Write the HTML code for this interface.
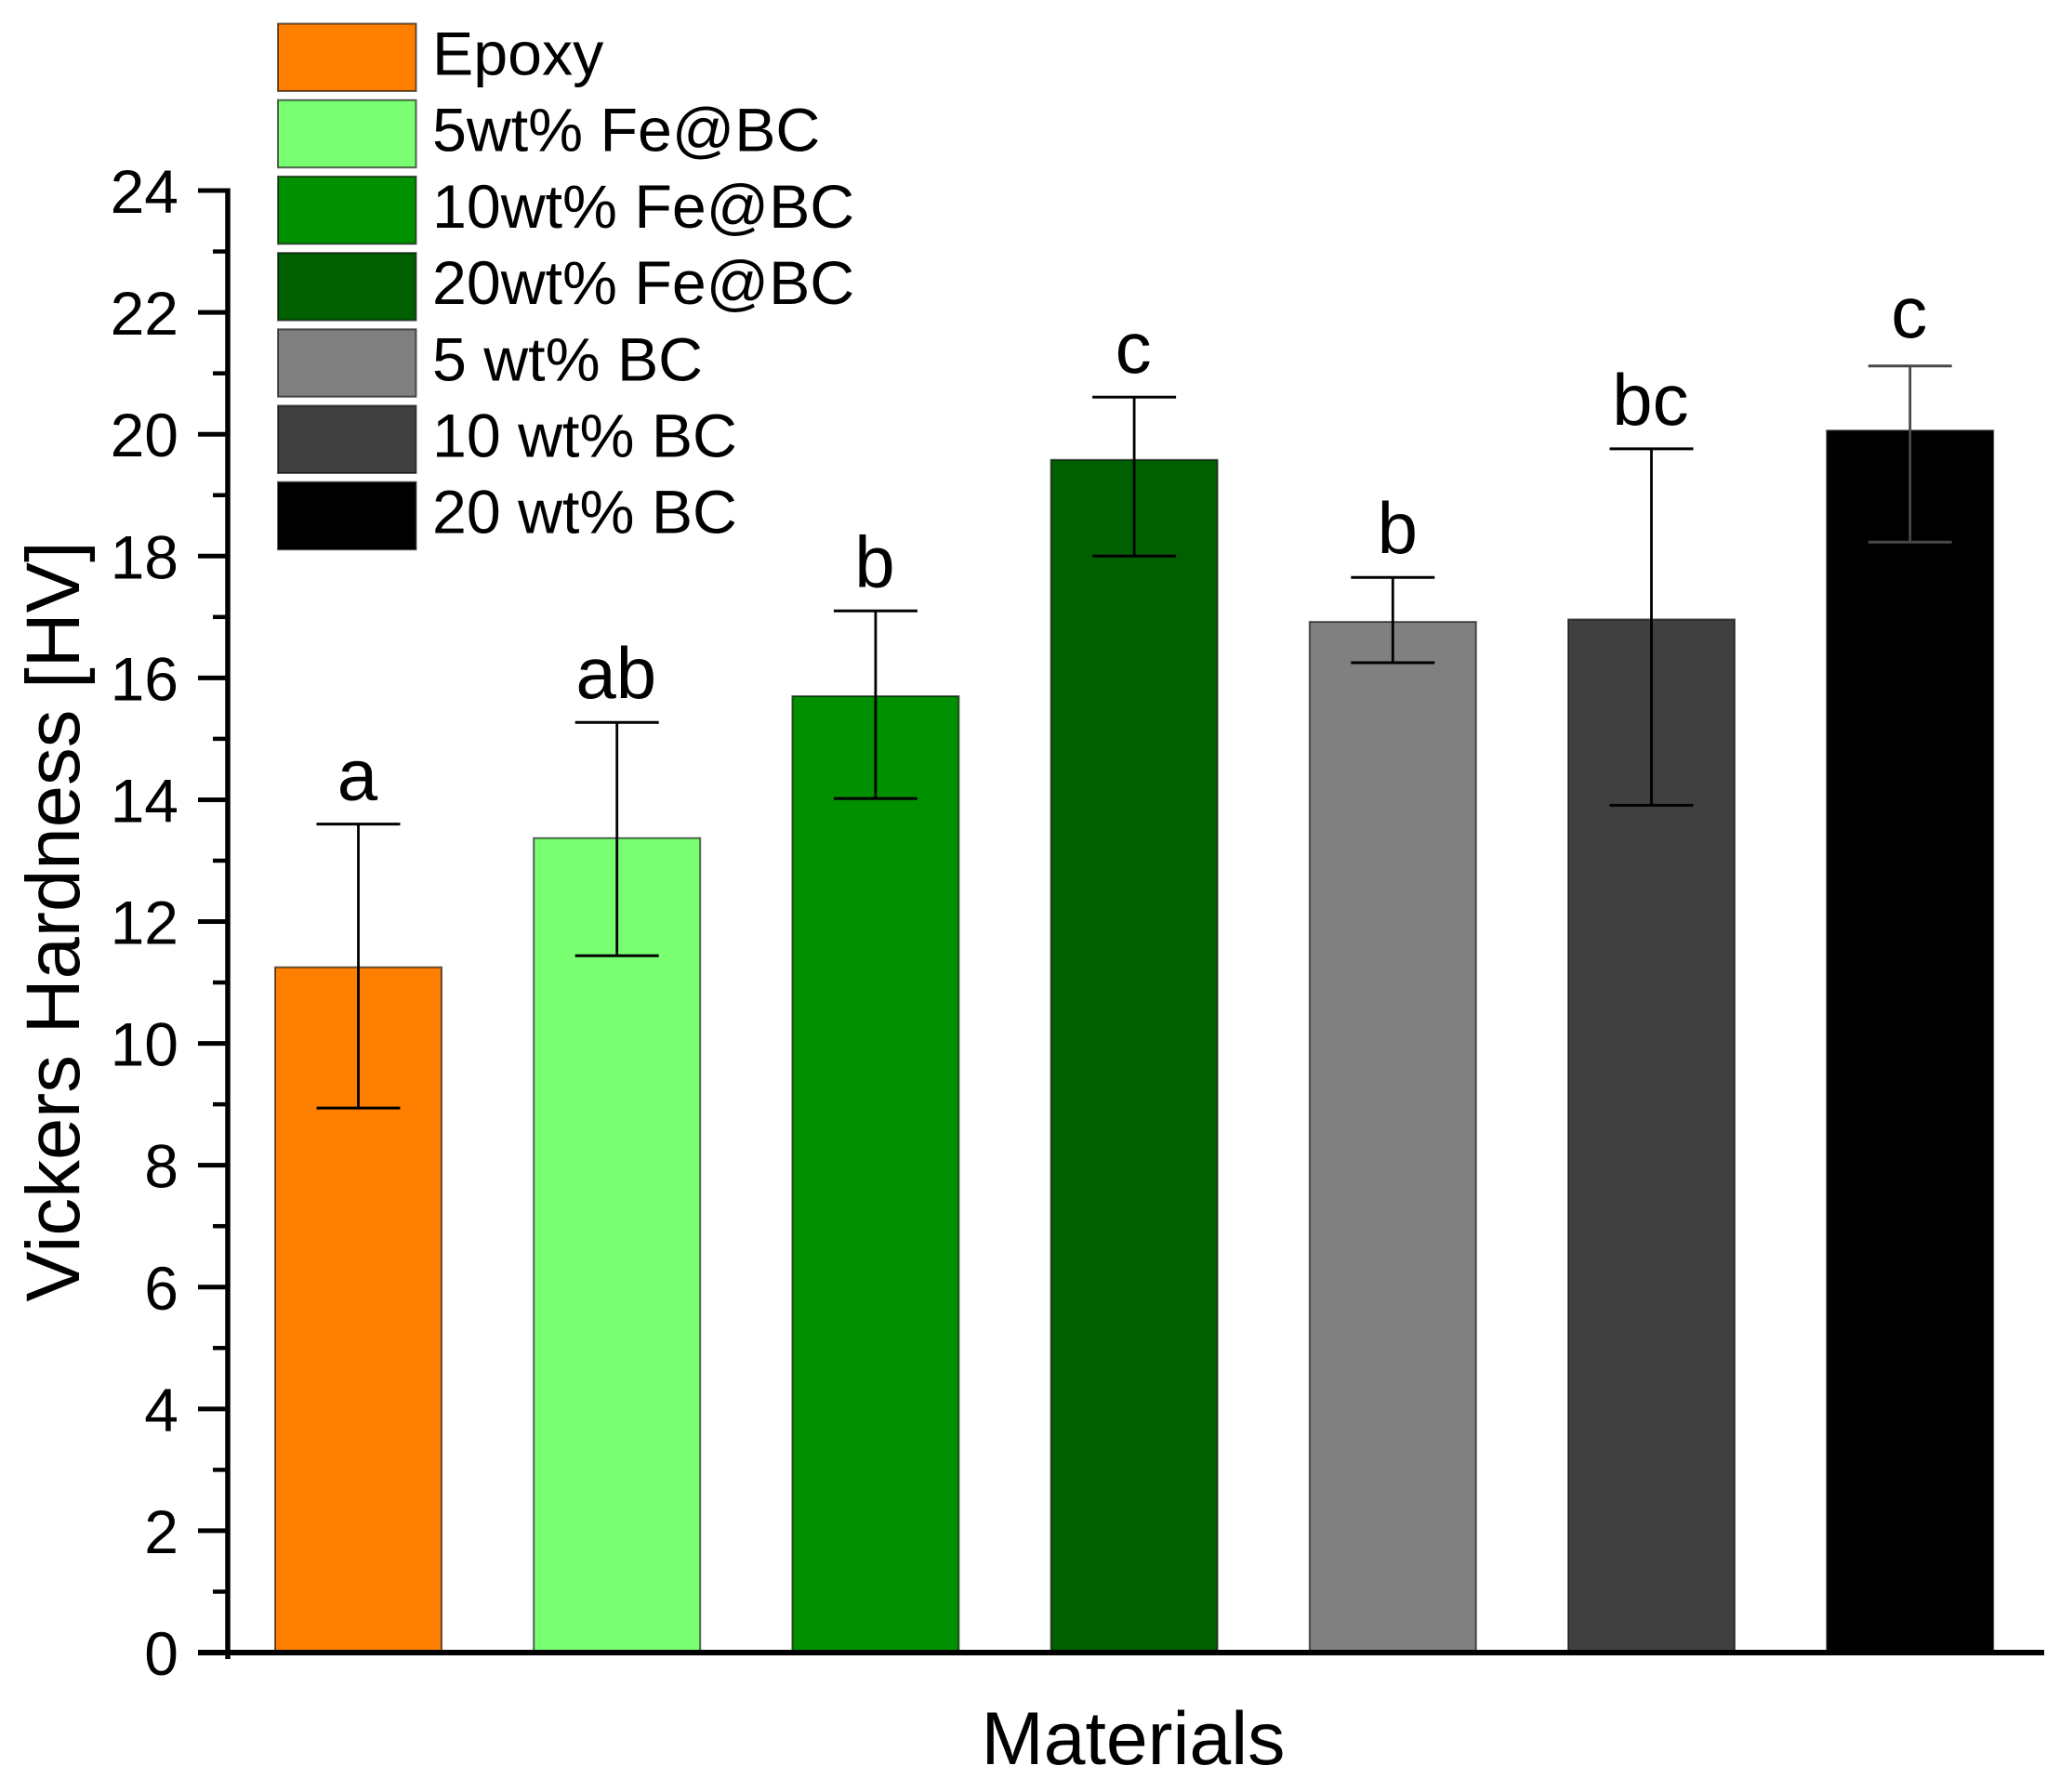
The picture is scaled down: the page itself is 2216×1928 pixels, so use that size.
<!DOCTYPE html>
<html lang="en">
<head>
<meta charset="utf-8">
<title>Vickers Hardness of Materials</title>
<style>
  html, body { margin: 0; padding: 0; background: #fff; }
  svg { display: block; font-family: "Liberation Sans", Arial, sans-serif; }
</style>
</head>
<body>
<svg id="chart" xmlns="http://www.w3.org/2000/svg" width="2216" height="1928" viewBox="0 0 2216 1928"></svg>
<script>
const categories = ["Epoxy", "5wt% Fe@BC", "10wt% Fe@BC", "20wt% Fe@BC", "5 wt% BC", "10 wt% BC", "20 wt% BC"];
const hardness = [11.25, 13.37, 15.7, 19.58, 16.92, 16.96, 20.06];
const errorUpper = [13.6, 15.27, 17.1, 20.61, 17.65, 19.76, 21.12];
const errorLower = [8.94, 11.44, 14.02, 18.0, 16.25, 13.91, 18.23];
const significance = ["a", "ab", "b", "c", "b", "bc", "c"];
const majorTicks = [0, 2, 4, 6, 8, 10, 12, 14, 16, 18, 20, 22, 24];
const minorTicks = [1, 3, 5, 7, 9, 11, 13, 15, 17, 19, 21, 23];
const fillColors = ["#ff8000", "#7aff73", "#009000", "#005f00", "#808080", "#404040", "#000000"];

const svg = document.getElementById('chart');
const NS = 'http://www.w3.org/2000/svg';

const yZero = 1778;
const yUnit = 65.54;
function yScale(v) { return yZero - v * yUnit; }

const xFirst = 385.5;
const xStep = 278.2;
const barWidth = 179;
function xScale(i) { return xFirst + i * xStep; }

function add(tag, attrs, text) {
  const el = document.createElementNS(NS, tag);
  for (const k in attrs) el.setAttribute(k, attrs[k]);
  if (text !== undefined) el.textContent = text;
  svg.appendChild(el);
  return el;
}

// Bars
categories.forEach(function (cat, i) {
  const top = yScale(hardness[i]);
  const bar = add('rect', { x: xScale(i) - barWidth / 2, y: top, width: barWidth, height: yZero - top, fill: fillColors[i], stroke: '#000', 'stroke-opacity': 0.6, 'stroke-width': 2 });
  
  
});

// Error bars
categories.forEach(function (cat, i) {
  const x = xScale(i);
  const up = yScale(errorUpper[i]);
  const lo = yScale(errorLower[i]);
  const color = i === 6 ? '#484848' : '#000';
  const stem = add('line', { x1: x, x2: x, y1: up, y2: lo, stroke: color, 'stroke-width': 2.8 });
  
  
  const capUp = add('line', { x1: x - 45, x2: x + 45, y1: up, y2: up, stroke: color, 'stroke-width': 3 });
  
  
  const capLo = add('line', { x1: x - 45, x2: x + 45, y1: lo, y2: lo, stroke: color, 'stroke-width': 3 });
  
  
  const gap = i === 6 ? 31 : 26;
  const shift = i === 4 ? 5 : -1;
  const label = add('text', { x: x + shift, y: up - gap, 'font-size': 78, 'text-anchor': 'middle', fill: '#000' }, significance[i]);
  
  
});

// Axis lines
const yAxisLine = add('line', { x1: 245, x2: 245, y1: yScale(24) - 2.5, y2: yZero + 7, stroke: '#000', 'stroke-width': 5.5 });


const xAxisLine = add('line', { x1: 213, x2: 2199, y1: yZero, y2: yZero, stroke: '#000', 'stroke-width': 6 });



// Ticks
majorTicks.forEach(function (v) {
  const y = yScale(v);
  const tick = add('line', { x1: 213, x2: 245, y1: y, y2: y, stroke: '#000', 'stroke-width': 5 });
  
  
  const lbl = add('text', { x: 192, y: y + 24, 'font-size': 66, 'text-anchor': 'end', fill: '#000' }, String(v));
  
  
});
minorTicks.forEach(function (v) {
  const y = yScale(v);
  const tick = add('line', { x1: 229, x2: 245, y1: y, y2: y, stroke: '#000', 'stroke-width': 4.5 });
  
  
});

// Legend
const legendTops = 25.5;
const legendStep = 82.2;
categories.forEach(function (cat, i) {
  const top = legendTops + i * legendStep;
  const swatch = add('rect', { x: 299, y: top, width: 148.5, height: 72.5, fill: fillColors[i], stroke: '#000', 'stroke-opacity': 0.6, 'stroke-width': 2 });
  
  
  const text = add('text', { x: 465, y: top + 55, 'font-size': 66.3, fill: '#000' }, cat);
  
  
});

// Axis titles
const yTitle = add('text', { transform: 'translate(85 991.5) rotate(-90)', 'font-size': 81.5, 'text-anchor': 'middle', fill: '#000' }, 'Vickers Hardness [HV]');


const xTitle = add('text', { x: 1219, y: 1898, 'font-size': 80.6, 'text-anchor': 'middle', fill: '#000' }, 'Materials');


</script>
</body>
</html>
